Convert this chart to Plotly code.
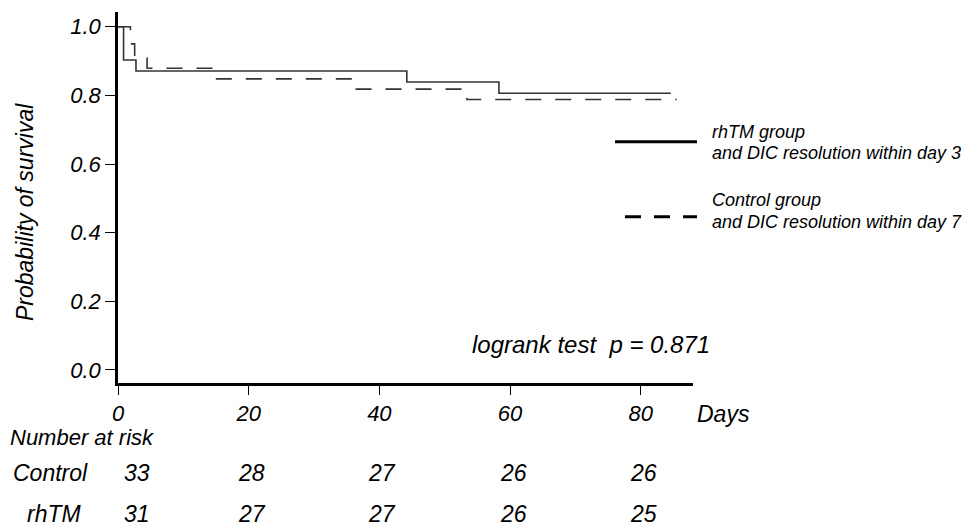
import plotly.graph_objects as go

# ---- data ----
rhtm_days = [0, 0.85, 2.75, 44.2, 58.3, 84.6]
rhtm_surv = [1.0, 0.903, 0.871, 0.839, 0.806, 0.806]

control_days = [0, 1.9, 2.55, 4.45, 14.6, 35.8, 53.4, 85.5]
control_surv = [1.0, 0.950, 0.909, 0.879, 0.848, 0.818, 0.788, 0.788]

x_ticks = [0, 20, 40, 60, 80]
y_ticks = [0.0, 0.2, 0.4, 0.6, 0.8, 1.0]

risk_times = [0, 20, 40, 60, 80]
risk_control = [33, 28, 27, 26, 26]
risk_rhtm = [31, 27, 27, 26, 25]

legend_rhtm = ["rhTM group", "and DIC resolution within day 3"]
legend_control = ["Control group", "and DIC resolution within day 7"]
pvalue_text = "logrank test  p = 0.871"

FONT = "Liberation Sans, Arial, Helvetica, sans-serif"
CURVE = "#333333"

fig = go.Figure()
fig.add_trace(go.Scatter(x=rhtm_days, y=rhtm_surv, mode="lines",
                         line=dict(shape="hv", color=CURVE, width=1.6),
                         showlegend=False, hoverinfo="skip"))
fig.add_trace(go.Scatter(x=control_days, y=control_surv, mode="lines",
                         line=dict(shape="hv", color=CURVE, width=1.6, dash="16px,14px"),
                         showlegend=False, hoverinfo="skip"))

W, H = 967, 529
ml, mr, mt, mb = 118, 274, 12, 146
pw, ph = W - ml - mr, H - mt - mb

def px_x(px):
    return (px - ml) / pw

def px_y(py):
    return 1 - (py - mt) / ph

def f(size):
    return dict(size=size, family=FONT, style="italic", color="black")

fig.update_layout(
    width=W, height=H,
    margin=dict(l=ml, r=mr, t=mt, b=mb),
    paper_bgcolor="white", plot_bgcolor="white",
    font=dict(family=FONT, color="black", style="italic"),
    xaxis=dict(range=[0, 88], tickvals=x_ticks, ticktext=[str(v) for v in x_ticks],
               showline=True, linecolor="black", linewidth=2.6,
               ticks="outside", ticklen=9, tickwidth=1.3, tickcolor="black",
               ticklabelstandoff=0,
               tickfont=f(22),
               showgrid=False, zeroline=False, fixedrange=True),
    yaxis=dict(range=[-0.0379, 1.0428], tickvals=y_ticks,
               ticktext=["%.1f" % v for v in y_ticks],
               showline=True, linecolor="black", linewidth=2.6,
               ticks="outside", ticklen=10, tickwidth=1.3, tickcolor="black",
               tickfont=f(22),
               showgrid=False, zeroline=False, fixedrange=True),
    showlegend=False,
)

ann = []

def add(text, x, y, size, xanchor="center", xref="paper", xshift=0, angle=0):
    ann.append(dict(x=x if xref != "paper" else px_x(x), y=px_y(y),
                    xref=xref, yref="paper", text=text, showarrow=False,
                    xanchor=xanchor, yanchor="middle", xshift=xshift,
                    textangle=angle, font=f(size)))

add("Probability of survival", 25, 212, 23, angle=-90)
add("Days", 695, 414, 23, xanchor="left")
add(pvalue_text, 591, 344, 24)
add("Number at risk", 82, 437, 22)
add("Control", 50, 473, 23)
add("rhTM", 54, 514, 23)
for i, (t, c, r) in enumerate(zip(risk_times, risk_control, risk_rhtm)):
    shift = 19 if i == 0 else 3
    add(str(c), t, 473, 23, xref="x", xshift=shift)
    add(str(r), t, 514, 23, xref="x", xshift=shift)
add(legend_rhtm[0], 710, 132, 18, xanchor="left")
add(legend_rhtm[1], 710, 153, 18, xanchor="left")
add(legend_control[0], 710, 200, 18, xanchor="left")
add(legend_control[1], 710, 222, 18, xanchor="left")
fig.update_layout(annotations=ann)

# legend line samples
fig.add_shape(type="line", xref="paper", yref="paper",
              x0=px_x(615), x1=px_x(697), y0=px_y(141.7), y1=px_y(141.7),
              line=dict(color="black", width=3))
fig.add_shape(type="line", xref="paper", yref="paper",
              x0=px_x(625), x1=px_x(697), y0=px_y(216.7), y1=px_y(216.7),
              line=dict(color="black", width=3, dash="16px,13px"))

fig.write_html("out.html")
